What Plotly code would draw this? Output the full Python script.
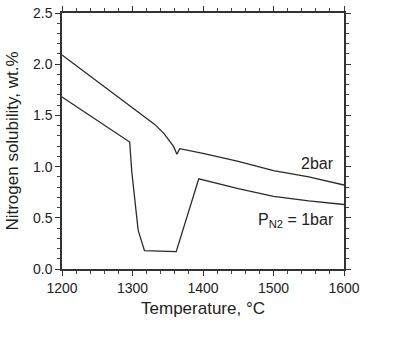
import plotly.graph_objects as go

temp_2bar = [1200, 1250, 1300, 1332, 1345, 1358, 1363, 1367, 1400, 1450, 1500, 1550, 1600]
sol_2bar = [2.09, 1.83, 1.57, 1.41, 1.32, 1.20, 1.12, 1.175, 1.13, 1.05, 0.96, 0.90, 0.82]

temp_1bar = [1200, 1250, 1294, 1296, 1299, 1308, 1317, 1362, 1394, 1450, 1500, 1550, 1600]
sol_1bar = [1.68, 1.45, 1.25, 1.24, 0.95, 0.38, 0.18, 0.17, 0.88, 0.785, 0.71, 0.665, 0.63]

x_ticks = [1200, 1300, 1400, 1500, 1600]
y_ticks = [0.0, 0.5, 1.0, 1.5, 2.0, 2.5]

line_col = "#2a2a2a"
font_fam = "Liberation Sans, Arial, sans-serif"

fig = go.Figure()
fig.add_trace(go.Scatter(x=temp_2bar, y=sol_2bar, mode="lines",
                         line=dict(color=line_col, width=1.3), showlegend=False))
fig.add_trace(go.Scatter(x=temp_1bar, y=sol_1bar, mode="lines",
                         line=dict(color=line_col, width=1.3), showlegend=False))

axis_common = dict(
    showgrid=False, zeroline=False, showline=True, linecolor="#333333", linewidth=1.5,
    mirror="allticks", ticks="outside", ticklen=5, tickwidth=1.2, tickcolor="#333333",
    tickfont=dict(family=font_fam, size=14, color="#222222"), automargin=False,
)

fig.update_xaxes(range=[1200, 1600], tickvals=x_ticks,
                 minor=dict(dtick=20, ticks="outside", ticklen=3, tickcolor="#444444", tickwidth=1),
                 title=dict(text="Temperature, °C", font=dict(family=font_fam, size=17, color="#222222"), standoff=8),
                 **axis_common)
fig.update_yaxes(range=[0, 2.5], tickvals=y_ticks, tickformat=".1f",
                 minor=dict(dtick=0.1, ticks="outside", ticklen=3, tickcolor="#444444", tickwidth=1),
                 title=dict(text="Nitrogen solubility, wt.%", font=dict(family=font_fam, size=17, color="#222222"), standoff=10),
                 **axis_common)

fig.add_annotation(x=1589, y=1.03, text="2bar", showarrow=False, xanchor="right", yanchor="middle",
                   font=dict(family=font_fam, size=16, color="#222222"))
fig.add_annotation(x=1589, y=0.47, text="P<sub>N2</sub> = 1bar", showarrow=False, xanchor="right", yanchor="middle",
                   font=dict(family=font_fam, size=16, color="#222222"))

fig.update_layout(width=400, height=347, margin=dict(l=62, r=56, t=13, b=78),
                  plot_bgcolor="white", paper_bgcolor="white")

# remove the default 8px page margin so the figure fills the window exactly
fig.write_html("out.html", config={"displayModeBar": False},
               post_script="document.body.style.margin='0';")
